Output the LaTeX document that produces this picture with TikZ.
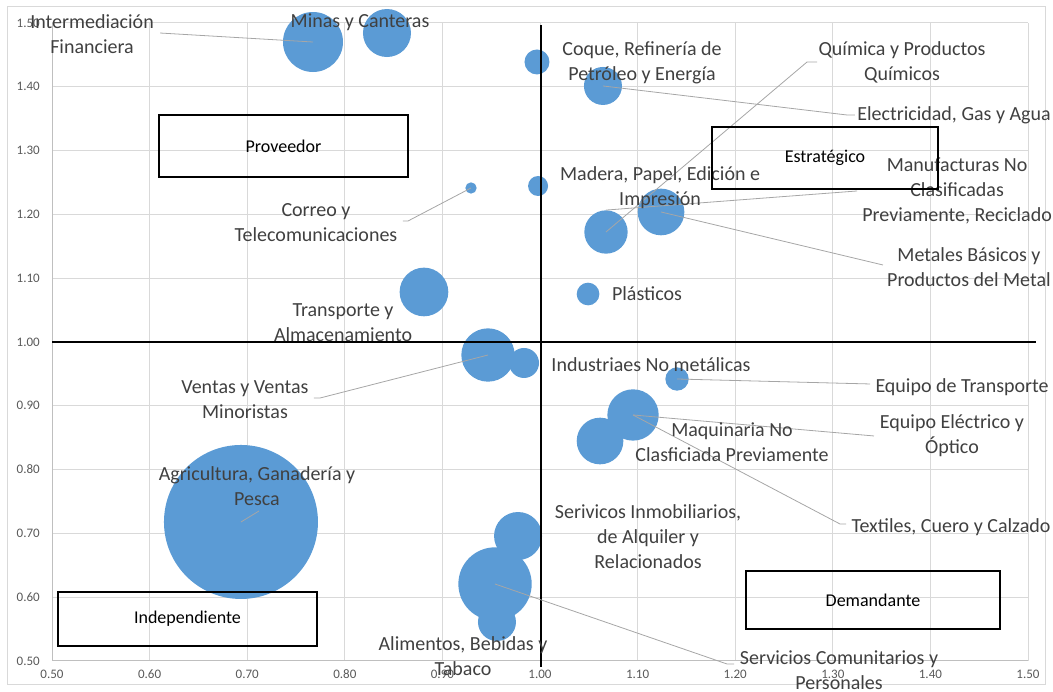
\documentclass[tikz,border=0pt]{standalone}
\usepackage{fontspec}
\setmainfont{Carlito}
\usepackage{xcolor}
\definecolor{bubblue}{HTML}{5B9BD5}
\definecolor{lblgray}{HTML}{404040}
\definecolor{tickgray}{HTML}{595959}
\definecolor{gridgray}{HTML}{D9D9D9}
\definecolor{leadgray}{HTML}{A6A6A6}
\definecolor{axisgray}{HTML}{BFBFBF}
\tikzset{
  bubble/.style={circle, fill=bubblue, inner sep=0pt, minimum size=#1},
  lbl/.style={text=lblgray, font=\fontsize{15}{18.75}\selectfont, align=center, inner sep=0pt},
  quadbox/.style={draw=black, line width=0.9pt, font=\fontsize{13.5}{16}\selectfont, inner sep=0pt},
  leader/.style={draw=leadgray, line width=0.6pt},
  ticklbl/.style={text=tickgray, font=\fontsize{9.75}{11}\selectfont, inner sep=0pt}
}

\begin{document}
\begin{tikzpicture}[x=732pt, y=478.5pt]
    \useasboundingbox (0.44672,0.45141) rectangle (1.52561,1.53605);
    \draw[gridgray, line width=0.75pt] (0.4539,0.4624) rectangle (1.5184,1.5251);
    \foreach \i in {6,...,15} {
        \draw[gridgray, line width=0.75pt] (\i/10,0.5) -- (\i/10,1.5);
        \draw[gridgray, line width=0.75pt] (0.5,\i/10) -- (1.5,\i/10);
    }
    \draw[axisgray, line width=0.75pt] (0.5,1.5) -- (0.5,0.5) -- (1.5,0.5);
    \foreach \v [count=\k] in {0.50,0.60,0.70,0.80,0.90,1.00,1.10,1.20,1.30,1.40,1.50} {
        \node[ticklbl] (xt\k) at (\v,0.4796) {\v};
        \node[ticklbl, anchor=east] (yt\k) at (0.4877,\v) {\v};
    }

    \node[bubble=115.5pt] (agr) at (0.6936,0.7179) {};
    \node[bubble=45pt] (fin) at (0.7674,1.4702) {};
    \node[bubble=36pt] (min) at (0.8432,1.4843) {};
    \node[bubble=18.75pt] (coq) at (0.9969,1.4389) {};
    \node[bubble=28.5pt] (ele) at (1.0645,1.4013) {};
    \node[bubble=8.5pt] (cor) at (0.9293,1.2414) {};
    \node[bubble=15pt] (mad) at (0.9980,1.2445) {};
    \node[bubble=32.5pt] (qui) at (1.0676,1.1724) {};
    \node[bubble=35pt] (man) at (1.1240,1.2038) {};
    \node[bubble=36.5pt] (tra) at (0.8811,1.0784) {};
    \node[bubble=17pt] (pla) at (1.0492,1.0752) {};
    \node[bubble=40pt] (ven) at (0.9467,0.9796) {};
    \node[bubble=22.5pt] (ind) at (0.9836,0.9671) {};
    \node[bubble=17.5pt] (eqt) at (1.1404,0.9420) {};
    \node[bubble=38.5pt] (eqe) at (1.0953,0.8856) {};
    \node[bubble=35pt] (maq) at (1.0615,0.8448) {};
    \node[bubble=36pt] (inm) at (0.9775,0.6959) {};
    \node[bubble=55pt] (com) at (0.9539,0.6207) {};
    \node[bubble=28.5pt] (ali) at (0.9559,0.5611) {};

    \draw[black, line width=1.1pt] (1.001,1.497) -- (1.001,0.49);
    \draw[black, line width=1.1pt] (0.5,1.0) -- (1.508,1.0);

    \coordinate (finend) at (0.6107,1.4843);
    \coordinate (corbend) at (0.8648,1.1897);
    \coordinate (corend) at (0.8596,1.1897);
    \coordinate (quibend) at (1.2736,1.4389);
    \coordinate (quiend) at (1.2838,1.4389);
    \coordinate (elebend) at (1.3145,1.3558);
    \coordinate (eleend) at (1.3227,1.3558);
    \coordinate (manend) at (1.3248,1.2367);
    \coordinate (metend) at (1.3514,1.1207);
    \coordinate (venbend) at (0.7746,0.9122);
    \coordinate (venend) at (0.7684,0.9122);
    \coordinate (eqtend) at (1.3381,0.9342);
    \coordinate (eqeend) at (1.3422,0.8527);
    \coordinate (texbend) at (1.3074,0.7147);
    \coordinate (texend) at (1.3135,0.7147);
    \coordinate (agrend) at (0.7121,0.7351);
    \coordinate (combend) at (1.1916,0.4953);
    \coordinate (comend) at (1.1988,0.4953);

    \draw[leader] (fin.center) -- (finend);
    \draw[leader] (cor.center) -- (corbend) -- (corend);
    \draw[leader] (qui.center) -- (quibend) -- (quiend);
    \draw[leader] (ele.center) -- (elebend) -- (eleend);
    \draw[leader] (qui.north) -- (manend);
    \draw[leader] (man.center) -- (metend);
    \draw[leader] (ven.center) -- (venbend) -- (venend);
    \draw[leader] (eqt.center) -- (eqtend);
    \draw[leader] (eqe.center) -- (eqeend);
    \draw[leader] (eqe.center) -- (texbend) -- (texend);
    \draw[leader] (agr.center) -- (agrend);
    \draw[leader] (com.center) -- (combend) -- (comend);

    \node[lbl] (finlab) at (0.5410,1.4820) {Intermediación\\Financiera};
    \node[lbl] (minlab) at (0.8156,1.5016) {Minas y Canteras};
    \node[lbl] (coqlab) at (1.1045,1.4381) {Coque, Refinería de\\Petróleo y Energía};
    \node[lbl] (quilab) at (1.3709,1.4381) {Química y Productos\\Químicos};
    \node[lbl] (elelab) at (1.4242,1.3558) {Electricidad, Gas y Agua};
    \node[lbl] (madlab) at (1.1230,1.2414) {Madera, Papel, Edición e\\Impresión};
    \node[lbl] (manlab) at (1.4273,1.2367) {Manufacturas No\\Clasificadas\\Previamente, Reciclado};
    \node[lbl] (corlab) at (0.7705,1.1873) {Correo y\\Telecomunicaciones};
    \node[lbl] (metlab) at (1.4395,1.1176) {Metales Básicos y\\Productos del Metal};
    \node[lbl] (tralab) at (0.7982,1.0298) {Transporte y\\Almacenamiento};
    \node[lbl] (plalab) at (1.1096,1.0752) {Plásticos};
    \node[lbl] (indlab) at (1.1137,0.9639) {Industriaes No metálicas};
    \node[lbl] (venlab) at (0.6977,0.9091) {Ventas y Ventas\\Minoristas};
    \node[lbl] (eqtlab) at (1.4324,0.9295) {Equipo de Transporte};
    \node[lbl] (eqelab) at (1.4221,0.8527) {Equipo Eléctrico y\\Óptico};
    \node[lbl] (maqlab) at (1.1967,0.8433) {Maquinaria No\\Clasficiada Previamente};
    \node[lbl] (agrlab) at (0.7100,0.7743) {Agricultura, Ganadería y\\Pesca};
    \node[lbl] (inmlab) at (1.1107,0.6944) {Serivicos Inmobiliarios,\\de Alquiler y\\Relacionados};
    \node[lbl] (texlab) at (1.4211,0.7100) {Textiles, Cuero y Calzado};
    \node[lbl] (alilab) at (0.9211,0.5078) {Alimentos, Bebidas y\\Tabaco};
    \node[lbl] (comlab) at (1.3064,0.4859) {Servicios Comunitarios y\\Personales};

    \node[quadbox, minimum width=186.75pt, minimum height=46.5pt] (prov) at (0.7372,1.3072) {Proveedor};
    \node[quadbox, minimum width=169.5pt, minimum height=46.5pt] (estr) at (1.2920,1.2884) {Estratégico};
    \node[quadbox, minimum width=194.25pt, minimum height=40.5pt] (indep) at (0.6388,0.5658) {Independiente};
    \node[quadbox, minimum width=190.5pt, minimum height=43.5pt] (dem) at (1.3412,0.5956) {Demandante};
\end{tikzpicture}
\end{document}
